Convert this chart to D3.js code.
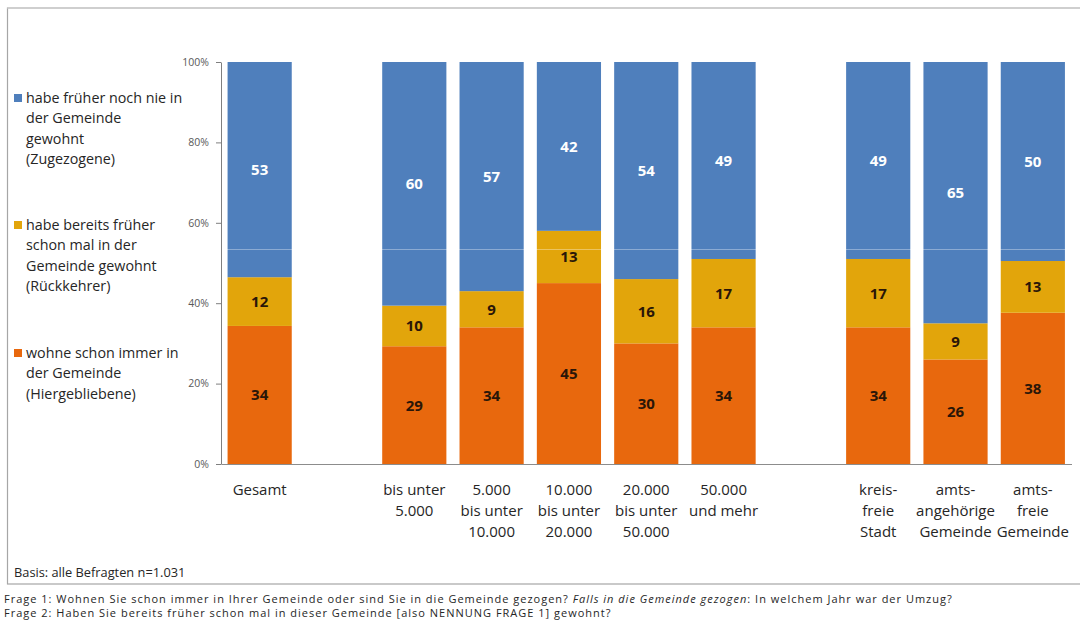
<!DOCTYPE html>
<html><head><meta charset="utf-8">
<script src="https://cdn.jsdelivr.net/npm/d3@7"></script>
<style>
body{margin:0;background:#fff;}
svg{display:block;font-family:"Open Sans",sans-serif;}
</style></head>
<body><svg id="c" width="1080" height="621"></svg>
<script>
// ---- data ----
const categories = ["Gesamt", "_gap1", "bis unter 5.000", "5.000–10.000", "10.000–20.000", "20.000–50.000", "50.000 und mehr", "_gap2", "kreisfreie Stadt", "amtsangehörige Gemeinde", "amtsfreie Gemeinde"];
const categoryLabels = [["Gesamt"], [], ["bis unter", "5.000"], ["5.000", "bis unter", "10.000"], ["10.000", "bis unter", "20.000"], ["20.000", "bis unter", "50.000"], ["50.000", "und mehr"], [], ["kreis-", "freie", "Stadt"], ["amts-", "angehörige", "Gemeinde"], ["amts-", "freie", "Gemeinde"]];
const barCategories = ["Gesamt", "bis unter 5.000", "5.000–10.000", "10.000–20.000", "20.000–50.000", "50.000 und mehr", "kreisfreie Stadt", "amtsangehörige Gemeinde", "amtsfreie Gemeinde"];
const hiergebliebene = [34, 29, 34, 45, 30, 34, 34, 26, 38];
const rueckkehrer    = [12, 10, 9, 13, 16, 17, 17, 9, 13];
const zugezogene     = [53, 60, 57, 42, 54, 49, 49, 65, 50];
const seriesKeys = ["hier", "rueck", "zu"];
const seriesColors = ["#e8680d", "#e2a50b", "#4f7fbc"];
const labelColors = ["#2a1608", "#2a1608", "#ffffff"];
const legendTexts = [
  ["habe früher noch nie in", "der Gemeinde", "gewohnt", "(Zugezogene)"],
  ["habe bereits früher", "schon mal in der", "Gemeinde gewohnt", "(Rückkehrer)"],
  ["wohne schon immer in", "der Gemeinde", "(Hiergebliebene)"]
];
const legendColors = ["#4f7fbc", "#e2a50b", "#e8680d"];
const yTicks = [0, 0.2, 0.4, 0.6, 0.8, 1.0];

const table = barCategories.map((c, i) => ({cat: c, hier: hiergebliebene[i], rueck: rueckkehrer[i], zu: zugezogene[i]}));

const svg = d3.select("#c");
const x = d3.scaleBand().domain(categories).range([221, 1071.5]).paddingInner(0.17).paddingOuter(0.085);
const y = d3.scaleLinear().domain([0, 1]).range([464, 62]);

// frame
svg.append("rect").attr("x", 7.5).attr("y", 8).attr("width", 1075).attr("height", 576)
  .attr("fill", "none").attr("stroke", "#a6a6a6").attr("stroke-width", 1.2);
svg.append("line").attr("x1", 7.5).attr("x2", 1080).attr("y1", 8).attr("y2", 8).attr("stroke", "#cfcfcf").attr("stroke-width", 2);

const stack = d3.stack().keys(seriesKeys).offset(d3.stackOffsetExpand);
const stacked = stack(table);

const g = svg.append("g");
stacked.forEach((s, si) => {
  g.selectAll(null).data(s).enter().append("rect")
    .attr("x", d => x(d.data.cat))
    .attr("width", x.bandwidth())
    .attr("y", d => y(d[1]))
    .attr("height", d => y(d[0]) - y(d[1]))
    .attr("fill", seriesColors[si]);
});
// faint light line artifact across bars
svg.append("line").attr("x1", 222).attr("x2", 1070).attr("y1", 249.5).attr("y2", 249.5)
  .attr("stroke", "#ffffff").attr("stroke-opacity", 0.35).attr("stroke-width", 1);

stacked.forEach((s, si) => {
  g.selectAll(null).data(s).enter().append("text")
    .attr("x", d => x(d.data.cat) + x.bandwidth() / 2)
    .attr("y", d => (y(d[0]) + y(d[1])) / 2)
    .attr("dy", "0.36em")
    .attr("text-anchor", "middle")
    .attr("font-size", 15).attr("font-weight", "bold")
    .attr("fill", labelColors[si])
    .text(d => d.data[seriesKeys[si]]);
});

// y axis
const yAxis = d3.axisLeft(y).tickValues(yTicks).tickFormat(d3.format(".0%")).tickSize(5).tickSizeOuter(0);
const ya = svg.append("g").attr("transform", "translate(221,0)").call(yAxis);
ya.select(".domain").attr("stroke", "#7f7f7f");
ya.selectAll(".tick line").attr("stroke", "#7f7f7f");
ya.selectAll(".tick text").attr("font-family", "'Open Sans',sans-serif").attr("font-size", 10.5).attr("fill", "#595959").attr("x", -12);

// x axis baseline
const xAxis = d3.axisBottom(x).tickSize(0).tickFormat("");
const xa = svg.append("g").attr("transform", "translate(0,464)").call(xAxis);
xa.select(".domain").attr("stroke", "#8c8c8c").attr("stroke-width", 1.2);
xa.selectAll(".tick").remove();

// category labels
categories.forEach((c, i) => {
  const lines = categoryLabels[i];
  const t = svg.append("text").attr("text-anchor", "middle").attr("font-size", 15).attr("fill", "#262626");
  lines.forEach((ln, j) => {
    t.append("tspan").attr("x", x(c) + x.bandwidth() / 2).attr("y", 495 + j * 21).text(ln);
  });
});

// legend
const legendY = [98, 225, 353];
legendTexts.forEach((lines, i) => {
  svg.append("rect").attr("x", 14).attr("y", legendY[i] - 4).attr("width", 8).attr("height", 8).attr("fill", legendColors[i]);
  const t = svg.append("text").attr("font-size", 14.3).attr("fill", "#262626");
  lines.forEach((ln, j) => {
    t.append("tspan").attr("x", 26).attr("y", legendY[i] + j * 20.3).attr("dy", "0.35em").text(ln);
  });
});

svg.append("text").attr("x", 14).attr("y", 577).attr("font-size", 12.8).attr("fill", "#262626").text("Basis: alle Befragten n=1.031");

const f1 = svg.append("text").attr("x", 4).attr("y", 603).attr("font-size", 11).attr("letter-spacing", 1).attr("fill", "#262626");
f1.append("tspan").text("Frage 1: Wohnen Sie schon immer in Ihrer Gemeinde oder sind Sie in die Gemeinde gezogen? ");
f1.append("tspan").attr("font-style", "italic").text("Falls in die Gemeinde gezogen");
f1.append("tspan").text(": In welchem Jahr war der Umzug?");
svg.append("text").attr("x", 4).attr("y", 617).attr("font-size", 11).attr("letter-spacing", 1).attr("fill", "#262626")
  .text("Frage 2: Haben Sie bereits früher schon mal in dieser Gemeinde [also NENNUNG FRAGE 1] gewohnt?");
</script></body></html>
